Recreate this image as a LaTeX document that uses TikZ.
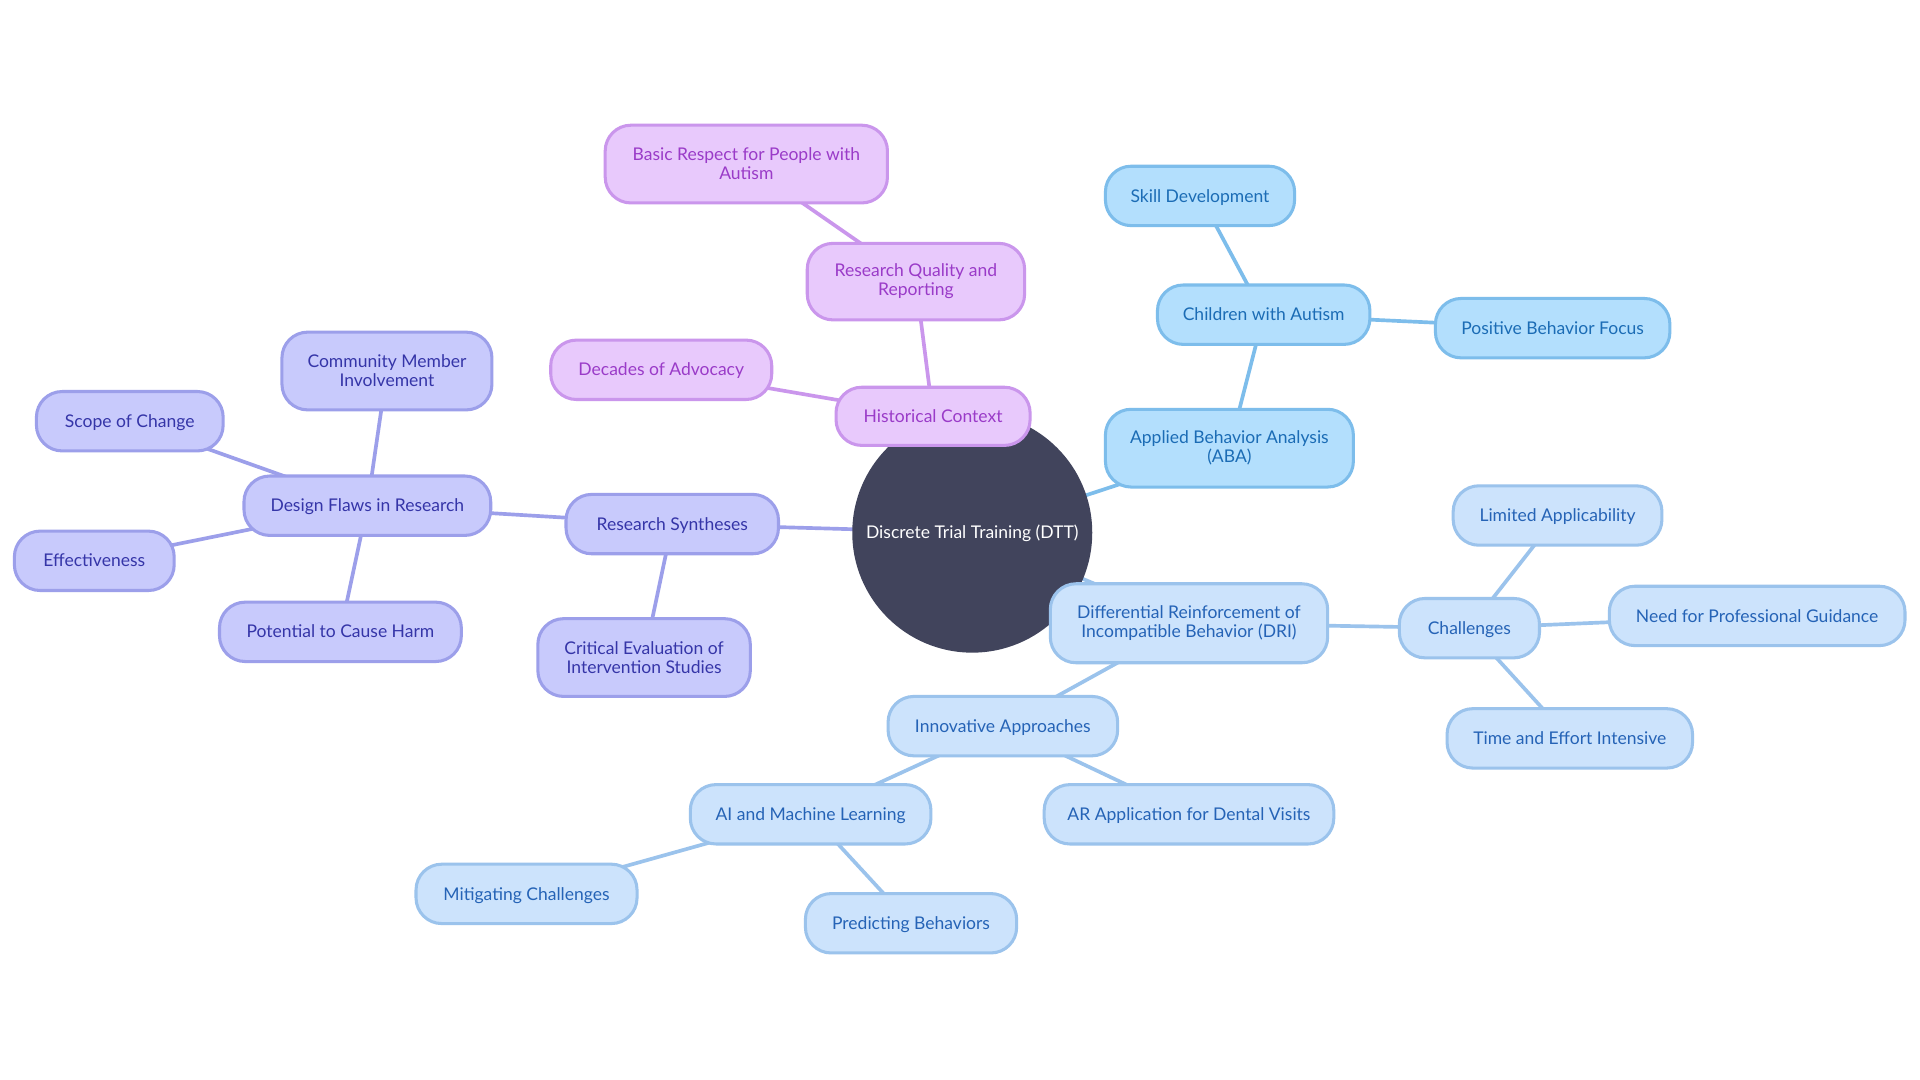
\documentclass[tikz,border=0pt]{standalone}
\usepackage{fontspec}
\setmainfont{Lato}
\definecolor{dttfill}{HTML}{41445C}
\definecolor{indfill}{HTML}{C8CAFC}
\definecolor{indline}{HTML}{9C9FEA}
\definecolor{indtext}{HTML}{3535A8}
\definecolor{pnkfill}{HTML}{E8C9FC}
\definecolor{pnkline}{HTML}{CA96EC}
\definecolor{pnktext}{HTML}{9A3BC8}
\definecolor{blufill}{HTML}{B3DFFD}
\definecolor{bluline}{HTML}{7DBDEB}
\definecolor{blutext}{HTML}{1B6CB5}
\definecolor{lbfill}{HTML}{CCE3FC}
\definecolor{lbline}{HTML}{9BC3EC}
\definecolor{lbtext}{HTML}{2563B6}
\pgfdeclarelayer{bg}
\pgfsetlayers{bg,main}
\tikzset{
  box/.style={draw, line width=2.5pt, rounded corners=21pt, align=center,
    inner sep=0pt, font=\fontsize{14.3}{15.5}\selectfont},
  one/.style={text height=13pt, text depth=3pt},
  two/.style={yshift=-1pt},
  indg/.style={box, fill=indfill, draw=indline, text=indtext},
  pnk/.style={box, fill=pnkfill, draw=pnkline, text=pnktext},
  blu/.style={box, fill=blufill, draw=bluline, text=blutext},
  lbl/.style={box, fill=lbfill, draw=lbline, text=lbtext},
  ed/.style={line width=3pt},
  edind/.style={ed, draw=indline},
  edpnk/.style={ed, draw=pnkline},
  edblu/.style={ed, draw=bluline},
  edlb/.style={ed, draw=lbline},
}
\newcommand{\bx}[6]{\node[#1, minimum width=#4pt-2.5pt, minimum height=#5pt-2.5pt] (#2) at (#3) {#6};}
\begin{document}
\begin{tikzpicture}[x=1pt, y=-1pt]
\useasboundingbox (0,0) rectangle (1568,882);
\node[circle, fill=dttfill, minimum size=196pt, inner sep=0pt, text=white,
  text height=13pt, text depth=3pt,
  font=\fontsize{14.3}{15.5}\selectfont] (dtt) at (794,435) {Discrete Trial Training (DTT)};
% pink branch
\bx{pnk,one}{hc}{762,340}{161}{50}{Historical Context}
\bx{pnk}{rq}{748,230}{180}{65}{Research Quality and\\Reporting}
\bx{pnk}{br}{609.5,134}{233}{66}{Basic Respect for People with\\Autism}
\bx{pnk,one}{doa}{540,302}{183}{51}{Decades of Advocacy}
% blue branch
\bx{blu}{aba}{1004,366}{205}{66}{Applied Behavior Analysis\\(ABA)}
\bx{blu,one}{cwa}{1032,257}{176}{51}{Children with Autism}
\bx{blu,one}{sd}{980,160}{157}{51}{Skill Development}
\bx{blu,one}{pbf}{1268,268}{194}{51}{Positive Behavior Focus}
% indigo branch
\bx{indg,one}{rs}{549,428}{176}{51}{Research Syntheses}
\bx{indg}{ce}{526,537}{176}{66}{Critical Evaluation of\\Intervention Studies}
\bx{indg,one}{df}{300,413}{204}{51}{Design Flaws in Research}
\bx{indg}{cmi}{316,303}{174}{66}{Community Member\\Involvement}
\bx{indg,one}{soc}{106,344}{155}{51}{Scope of Change}
\bx{indg,one}{eff}{77,458}{133}{51}{Effectiveness}
\bx{indg,one}{pch}{278,516}{200}{51}{Potential to Cause Harm}
% light blue branch
\bx{lbl}{dri}{971,509}{229}{67}{Differential Reinforcement of\\Incompatible Behavior (DRI)}
\bx{lbl,one}{ch}{1200,513}{117}{51}{Challenges}
\bx{lbl,one}{la}{1272,421}{173}{51}{Limited Applicability}
\bx{lbl,one}{npg}{1435,503}{244}{51}{Need for Professional Guidance}
\bx{lbl,one}{tei}{1282,603}{203}{51}{Time and Effort Intensive}
\bx{lbl,one}{ia}{819,593}{190}{51}{Innovative Approaches}
\bx{lbl,one}{ai}{662,665}{199}{51}{AI and Machine Learning}
\bx{lbl,one}{ar}{971,665}{239}{51}{AR Application for Dental Visits}
\bx{lbl,one}{mc}{430,730}{183}{51}{Mitigating Challenges}
\bx{lbl,one}{pb}{744,754}{175}{51}{Predicting Behaviors}
\begin{pgfonlayer}{bg}
\fill[white] (0,0) rectangle (1568,882);
\draw[edind] (dtt.center) -- (rs.center);
\draw[edpnk] (dtt.center) -- (hc.center);
\draw[edblu] (dtt.center) -- (aba.center);
\draw[edlb] (dtt.center) -- (dri.center);
\draw[edind] (rs.center) -- (df.center);
\draw[edind] (rs.center) -- (ce.center);
\draw[edind] (df.center) -- (cmi.center);
\draw[edind] (df.center) -- (soc.center);
\draw[edind] (df.center) -- (eff.center);
\draw[edind] (df.center) -- (pch.center);
\draw[edpnk] (hc.center) -- (rq.center);
\draw[edpnk] (hc.center) -- (doa.center);
\draw[edpnk] (rq.center) -- (br.center);
\draw[edblu] (aba.center) -- (cwa.center);
\draw[edblu] (cwa.center) -- (sd.center);
\draw[edblu] (cwa.center) -- (pbf.center);
\draw[edlb] (dri.center) -- (ch.center);
\draw[edlb] (dri.center) -- (ia.center);
\draw[edlb] (ch.center) -- (la.center);
\draw[edlb] (ch.center) -- (npg.center);
\draw[edlb] (ch.center) -- (tei.center);
\draw[edlb] (ia.center) -- (ai.center);
\draw[edlb] (ia.center) -- (ar.center);
\draw[edlb] (ai.center) -- (mc.center);
\draw[edlb] (ai.center) -- (pb.center);
\end{pgfonlayer}
\end{tikzpicture}
\end{document}
